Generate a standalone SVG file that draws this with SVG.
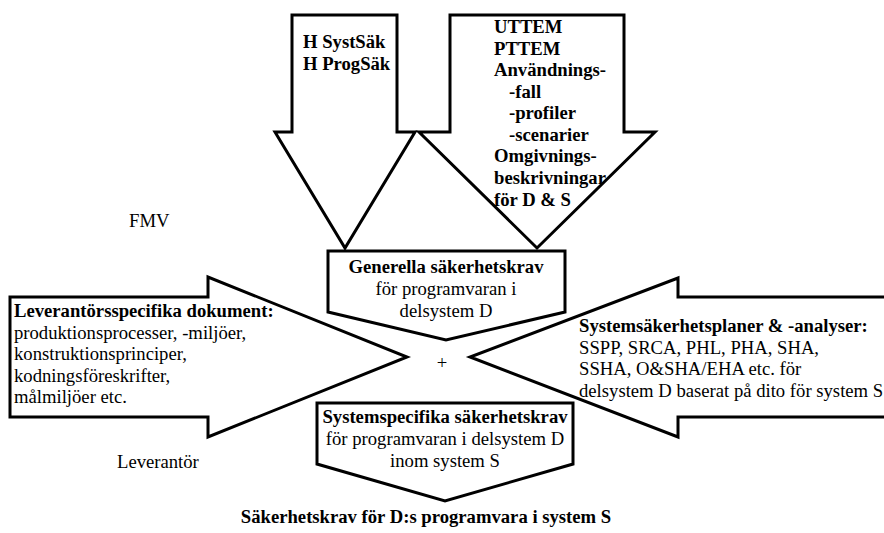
<svg xmlns="http://www.w3.org/2000/svg" width="884" height="533" viewBox="0 0 884 533">
<style>
.shape{fill:#fff;stroke:#000;stroke-width:3;stroke-linejoin:miter}
text{font-family:"Liberation Serif","Times New Roman",serif;font-size:18.67px;fill:#000}
.b{font-weight:bold}
.m{text-anchor:middle}
</style>
<rect width="884" height="533" fill="#fff"/>
<g id="connectors"></g>
<g id="node-hsyst">
<polygon class="shape" points="292,15 397,15 397,132 415,132 345,248 275,132 292,132"/>
<text class="b" x="303" y="48">H SystSäk</text>
<text class="b" x="303" y="70">H ProgSäk</text>
</g>
<g id="node-uttem">
<polygon class="shape" points="450,15 624,15 624,132 655,132 537,248 419,132 450,132"/>
<text class="b" x="494" y="33">UTTEM</text>
<text class="b" x="494" y="55">PTTEM</text>
<text class="b" x="494" y="76">Användnings-</text>
<text class="b" x="509" y="98">-fall</text>
<text class="b" x="509" y="119">-profiler</text>
<text class="b" x="509" y="141">-scenarier</text>
<text class="b" x="494" y="162">Omgivnings-</text>
<text class="b" x="494" y="184">beskrivningar</text>
<text class="b" x="494" y="206">för D &amp; S</text>
</g>
<g id="node-leverantor-dok">
<polygon class="shape" points="10,297 208,297 208,277 407,357 208,437 208,417 10,417"/>
<text class="b" x="14" y="317">Leverantörsspecifika dokument:</text>
<text x="14" y="338.5">produktionsprocesser, -miljöer,</text>
<text x="14" y="360">konstruktionsprinciper,</text>
<text x="14" y="381.5">kodningsföreskrifter,</text>
<text x="14" y="403">målmiljöer etc.</text>
</g>
<g id="node-systemsak">
<polygon class="shape" points="892,297 678,297 678,278 470,357 678,437 678,417 892,417"/>
<text class="b" x="579" y="332">Systemsäkerhetsplaner &amp; -analyser:</text>
<text x="579" y="353.5">SSPP, SRCA, PHL, PHA, SHA,</text>
<text x="579" y="375">SSHA, O&amp;SHA/EHA etc. för</text>
<text x="579" y="396.5">delsystem D baserat på dito för system S</text>
</g>
<g id="node-generella">
<polygon class="shape" points="328,251 565,251 565,312 446,340 328,312"/>
<text class="b m" x="446" y="273">Generella säkerhetskrav</text>
<text class="m" x="446" y="295">för programvaran i</text>
<text class="m" x="446" y="317">delsystem D</text>
</g>
<g id="node-systemspecifika">
<polygon class="shape" points="317,403 573,403 573,464 445,501 317,464"/>
<text class="b m" x="445" y="423">Systemspecifika säkerhetskrav</text>
<text class="m" x="445" y="445">för programvaran i delsystem D</text>
<text class="m" x="445" y="467">inom system S</text>
</g>
<g id="labels">
<text x="442" y="369" class="m">+</text>
<text x="129" y="227">FMV</text>
<text x="117" y="468">Leverantör</text>
<text class="b m" x="426" y="523">Säkerhetskrav för D:s programvara i system S</text>
</g>
</svg>
